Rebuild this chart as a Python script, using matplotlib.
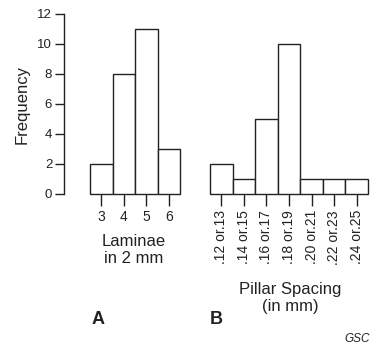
import matplotlib.pyplot as plt

plt.rcParams['font.family'] = ['Liberation Sans', 'DejaVu Sans']

# Panel A: laminae in 2 mm
laminae = ["3", "4", "5", "6"]
laminae_freq = [2, 8, 11, 3]

# Panel B: pillar spacing (mm)
spacing = [".12 or.13", ".14 or.15", ".16 or.17", ".18 or.19",
           ".20 or.21", ".22 or.23", ".24 or.25"]
spacing_freq = [2, 1, 5, 10, 1, 1, 1]

ink = "#222222"
fig = plt.figure(figsize=(3.72, 3.45), dpi=100)

W, H = 372, 345
def box(l, r, t, b):
    return [l / W, (H - b) / H, (r - l) / W, (b - t) / H]

axA = fig.add_axes(box(64, 180, 14, 194))
axB = fig.add_axes(box(210, 368, 14, 194))

xa = range(len(laminae))
axA.bar(xa, laminae_freq, width=1.0, color="white", edgecolor=ink,
        linewidth=1.0, clip_on=False)
axA.set_xlim(-1.656, 3.5)
axA.set_xticks(list(xa))
axA.set_xticklabels(laminae, fontsize=10, color=ink)
axA.set_yticks(range(0, 13, 2))
axA.tick_params(axis="y", labelsize=9.5, length=6.5, width=1.0, colors=ink, pad=2)

xb = range(len(spacing))
axB.bar(xb, spacing_freq, width=1.0, color="white", edgecolor=ink,
        linewidth=1.0, clip_on=False)
axB.set_xlim(-0.5, 6.5)
axB.set_xticks(list(xb))
axB.set_xticklabels(spacing, rotation=90, fontsize=10, color=ink)
axB.set_yticks([])

for ax in (axA, axB):
    ax.set_ylim(0, 12)
    for s in ("top", "right", "bottom"):
        ax.spines[s].set_visible(False)
    ax.tick_params(axis="x", length=8.6, width=1.0, colors=ink, pad=3)
axB.spines["left"].set_visible(False)
axA.spines["left"].set_color(ink)
axA.spines["left"].set_linewidth(1.0)

fig.text(22 / W, 1 - 105 / H, "Frequency", rotation=90, ha="center", va="center",
         fontsize=12, color=ink)
fig.text(134 / W, 1 - 250 / H, "Laminae\nin 2 mm", ha="center", va="center",
         fontsize=12, color=ink, linespacing=1.2)
fig.text(290 / W, 1 - 298 / H, "Pillar Spacing\n(in mm)", ha="center", va="center",
         fontsize=12, color=ink, linespacing=1.2)
fig.text(98 / W, 1 - 319 / H, "A", ha="center", va="center", fontsize=13,
         fontweight="bold", color=ink)
fig.text(216 / W, 1 - 319 / H, "B", ha="center", va="center", fontsize=13,
         fontweight="bold", color=ink)
fig.text(370 / W, 1 - 339 / H, "GSC", ha="right", va="center", fontsize=8.5,
         style="italic", color=ink)

fig.savefig("out.png", dpi=100)
